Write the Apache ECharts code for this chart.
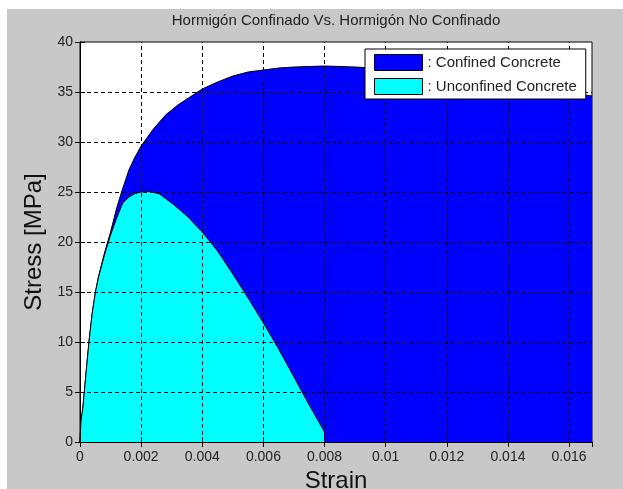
<!DOCTYPE html>
<html>
<head>
<meta charset="utf-8">
<script src="https://cdn.jsdelivr.net/npm/echarts@6/dist/echarts.min.js"></script>
<style>html,body{margin:0;padding:0;background:#fff}#c{width:623px;height:489px}</style>
</head>
<body>
<div id="c"></div>
<script>
const titleText = 'Hormigón Confinado Vs. Hormigón No Confinado';
const xName = 'Strain';
const yName = 'Stress [MPa]';
const seriesNames = ['Confined Concrete', 'Unconfined Concrete'];
const xTicks = [0, 0.002, 0.004, 0.006, 0.008, 0.01, 0.012, 0.014, 0.016];
const yTicks = [0, 5, 10, 15, 20, 25, 30, 35, 40];

const confStrain = [0, 0.00003, 0.0001, 0.0002, 0.0003, 0.0004, 0.0005, 0.0006, 0.0008, 0.001, 0.0012, 0.00136, 0.0016, 0.0018, 0.002, 0.0024, 0.0028, 0.0032, 0.0036, 0.004, 0.0045, 0.005, 0.0055, 0.006, 0.0065, 0.007, 0.008, 0.009, 0.01, 0.011, 0.012, 0.013, 0.014, 0.015, 0.016, 0.01675];
const confStress = [0, 2.0, 3.6, 7.0, 10.2, 12.9, 14.9, 16.5, 18.9, 21.0, 23.4, 25.0, 27.2, 28.5, 29.6, 31.3, 32.7, 33.7, 34.5, 35.3, 36.0, 36.6, 37.0, 37.2, 37.4, 37.5, 37.6, 37.5, 37.3, 37.0, 36.7, 36.3, 35.9, 35.4, 34.9, 34.6];

const unconfStrain = [0, 0.00003, 0.0001, 0.0002, 0.0003, 0.0004, 0.0005, 0.0006, 0.0008, 0.001, 0.0012, 0.0014, 0.0016, 0.0018, 0.002, 0.0023, 0.0026, 0.003, 0.0035, 0.004, 0.0045, 0.005, 0.0055, 0.006, 0.0065, 0.007, 0.0075, 0.008, 0.008];
const unconfStress = [0, 2.0, 3.6, 7.0, 10.2, 12.9, 14.9, 16.4, 18.7, 20.7, 22.4, 23.9, 24.5, 24.85, 25.0, 25.05, 24.8, 23.9, 22.6, 21.0, 19.1, 16.8, 14.4, 11.9, 9.3, 6.5, 3.7, 1.0, 0];

const zip = (a, b) => a.map((v, i) => [v, b[i]]);
const FONT = "'Liberation Sans', Arial, sans-serif";
const X_MAX = 0.01675, Y_MAX = 40;

function xFmt(v) {
  for (const t of xTicks) if (Math.abs(v - t) < 1e-9) return String(t);
  return '';
}

const gridMarks = xTicks.filter(t => t > 0).map(t => [{coord: [t, 0]}, {coord: [t, Y_MAX]}])
  .concat(yTicks.filter(t => t > 0 && t < Y_MAX).map(t => [{coord: [0, t]}, {coord: [X_MAX, t]}]));

const chart = echarts.init(document.getElementById('c'), null, {renderer: 'canvas'});
const commonX = {
  type: 'value', min: 0, max: X_MAX, interval: 0.002,
  axisLine: {show: true, lineStyle: {color: '#000', width: 1}},
  axisTick: {show: true, inside: true, length: 5, lineStyle: {color: '#000'}},
  splitLine: {show: false}
};
const commonY = {
  type: 'value', min: 0, max: Y_MAX, interval: 5,
  axisLine: {show: true, lineStyle: {color: '#000', width: 1}},
  axisTick: {show: true, inside: true, length: 5, lineStyle: {color: '#000'}},
  splitLine: {show: false}
};
chart.setOption({
  animation: false,
  backgroundColor: '#c8c8c8',
  textStyle: {fontFamily: FONT},
  graphic: [
    {type: 'rect', shape: {x: 0, y: 0, width: 7, height: 489}, style: {fill: '#fff'}, silent: true},
    {type: 'rect', shape: {x: 0, y: 0, width: 623, height: 9}, style: {fill: '#fff'}, silent: true},
    {type: 'text', x: 336, y: 21, style: {text: titleText, fontFamily: FONT, fontSize: 15, fill: '#222', align: 'center', verticalAlign: 'middle'}}
  ],
  grid: {left: 80, right: 31, top: 42, bottom: 47, show: true, backgroundColor: '#fff', borderColor: '#000', borderWidth: 1, containLabel: false, outerBoundsMode: 'none'},
  legend: {
    orient: 'vertical', left: 365, top: 49,
    padding: [5, 9, 4, 9], itemGap: 7, itemWidth: 48, itemHeight: 16,
    backgroundColor: '#fff', borderColor: '#000', borderWidth: 1, z: 10,
    icon: 'rect',
    itemStyle: {borderColor: '#000', borderWidth: 1},
    formatter: n => ': ' + n,
    textStyle: {fontFamily: FONT, fontSize: 15, color: '#222', lineHeight: 16},
    data: seriesNames
  },
  xAxis: [
    Object.assign({}, commonX, {
      position: 'bottom', z: 6,
      axisLabel: {show: true, color: '#222', fontSize: 14, fontFamily: FONT, margin: 8, formatter: xFmt, showMaxLabel: false},
      name: xName, nameLocation: 'middle', nameGap: 27,
      nameTextStyle: {fontSize: 24, color: '#111', fontFamily: FONT}
    }),
    Object.assign({}, commonX, {position: 'top', z: 6, axisLabel: {show: false}})
  ],
  yAxis: [
    Object.assign({}, commonY, {
      position: 'left', z: 6,
      axisLabel: {show: true, color: '#222', fontSize: 14, fontFamily: FONT, margin: 7},
      name: yName, nameLocation: 'middle', nameGap: 30,
      nameTextStyle: {fontSize: 24, color: '#111', fontFamily: FONT}
    }),
    Object.assign({}, commonY, {position: 'right', z: 6, axisLabel: {show: false}})
  ],
  series: [
    {
      name: seriesNames[0], type: 'line', xAxisIndex: 0, yAxisIndex: 0, z: 2,
      data: zip(confStrain, confStress), showSymbol: false, symbol: 'none', smooth: false,
      itemStyle: {color: '#0000ff'},
      lineStyle: {color: '#000', width: 1},
      areaStyle: {color: '#0000ff', opacity: 1}
    },
    {
      name: seriesNames[1], type: 'line', xAxisIndex: 0, yAxisIndex: 0, z: 3,
      data: zip(unconfStrain, unconfStress), showSymbol: false, symbol: 'none', smooth: false,
      itemStyle: {color: '#00ffff'},
      lineStyle: {color: '#000', width: 1},
      areaStyle: {color: '#00ffff', opacity: 1}
    },
    {
      name: 'grid', type: 'line', xAxisIndex: 0, yAxisIndex: 0, z: 5,
      data: [], silent: true,
      markLine: {
        silent: true, symbol: ['none', 'none'], animation: false,
        label: {show: false},
        lineStyle: {color: '#000', type: [4, 3], width: 1},
        emphasis: {disabled: true},
        data: gridMarks
      }
    }
  ]
});
</script>
</body>
</html>
